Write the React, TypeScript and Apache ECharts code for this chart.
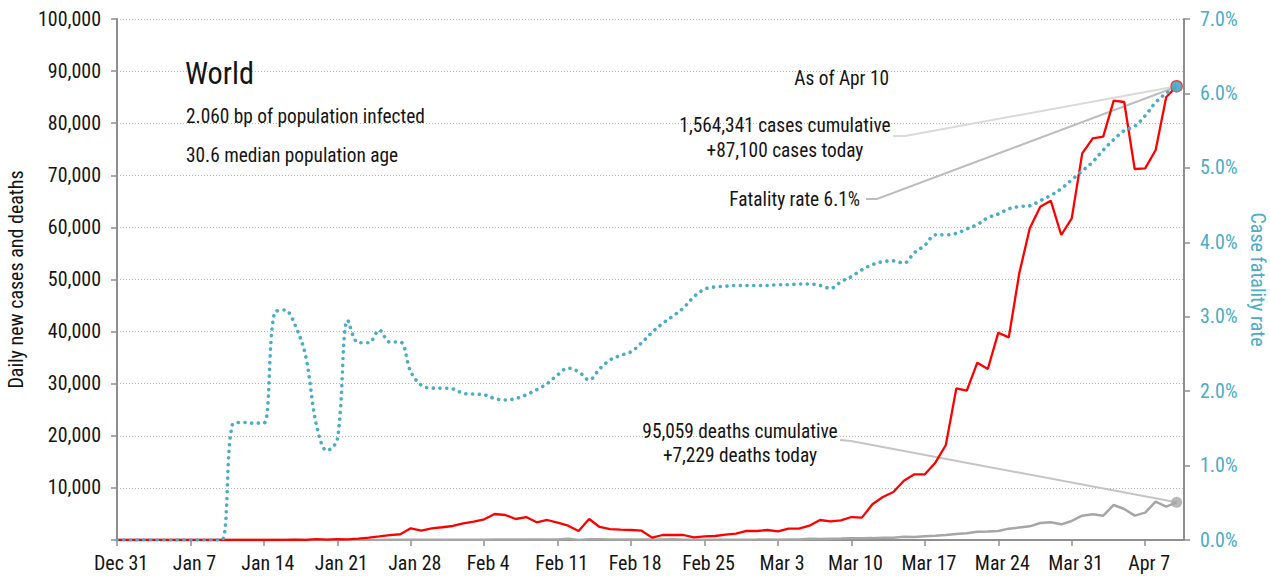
import React, { useEffect, useRef } from 'react';
import * as echarts from 'echarts';

// Tick labels of the date axis, one every 7 days starting Dec 31
const dateTickLabels = [
  'Dec 31', 'Jan 7', 'Jan 14', 'Jan 21', 'Jan 28', 'Feb 4', 'Feb 11', 'Feb 18',
  'Feb 25', 'Mar 3', 'Mar 10', 'Mar 17', 'Mar 24', 'Mar 31', 'Apr 7',
];

// Daily new cases, Dec 31 .. Apr 10 (one value per day)
const dailyCases = [
  27, 0, 0, 17, 0, 15, 0, 0, 0, 0,
  0, 0, 1, 0, 5, 4, 17, 60, 20, 170,
  77, 149, 131, 259, 457, 688, 950, 1100, 2240, 1790,
  2240, 2450, 2690, 3200, 3520, 3970, 4990, 4800, 4030, 4410,
  3390, 3840, 3330, 2750, 1730, 4030, 2500, 2100, 2000, 1920,
  1790, 450, 960, 1000, 960, 510, 700, 770, 1020, 1220,
  1730, 1730, 1920, 1660, 2180, 2180, 2750, 3840, 3580, 3770,
  4410, 4290, 6850, 8250, 9200, 11390, 12600, 12600, 14840, 18230,
  29110, 28660, 34030, 32820, 39790, 38900, 51190, 59820, 63980, 65130,
  58540, 61740, 74220, 77100, 77420, 84320, 84070, 71210, 71340, 74860,
  84970, 87100,
];

// Daily new deaths, Dec 31 .. Apr 10
const dailyDeaths = [
  0, 0, 0, 0, 0, 0, 0, 0, 0, 0,
  0, 1, 0, 0, 0, 0, 0, 1, 1, 0,
  3, 11, 0, 8, 16, 15, 24, 26, 26, 38,
  43, 46, 45, 57, 64, 66, 73, 73, 86, 89,
  97, 108, 97, 254, 13, 143, 142, 106, 98, 115,
  118, 109, 97, 150, 71, 52, 29, 44, 37, 58,
  67, 72, 84, 56, 104, 99, 235, 190, 230, 270,
  330, 340, 360, 430, 430, 620, 580, 700, 800, 960,
  1150, 1280, 1600, 1650, 1730, 2180, 2400, 2620, 3260, 3390,
  3010, 3650, 4670, 4930, 4670, 6720, 5950, 4670, 5250, 7360,
  6400, 7229,
];

// Case fatality rate (%), Dec 31 .. Apr 10
const fatalityRate = [
  0, 0, 0, 0, 0, 0, 0, 0, 0, 0,
  0, 1.55, 1.58, 1.57, 1.57, 3.05, 3.09, 2.88, 2.46, 1.55,
  1.2, 1.35, 2.95, 2.65, 2.65, 2.82, 2.66, 2.66, 2.26, 2.08,
  2.04, 2.04, 2.03, 1.97, 1.96, 1.95, 1.9, 1.88, 1.9, 1.95,
  2.02, 2.1, 2.22, 2.31, 2.26, 2.15, 2.3, 2.42, 2.48, 2.53,
  2.65, 2.79, 2.91, 3.01, 3.12, 3.27, 3.37, 3.4, 3.41, 3.42,
  3.42, 3.42, 3.42, 3.43, 3.43, 3.44, 3.44, 3.42, 3.38, 3.47,
  3.54, 3.63, 3.7, 3.74, 3.75, 3.72, 3.86, 3.96, 4.1, 4.1,
  4.12, 4.18, 4.24, 4.33, 4.38, 4.45, 4.48, 4.49, 4.56, 4.63,
  4.72, 4.84, 4.96, 5.08, 5.24, 5.38, 5.5, 5.56, 5.7, 5.88,
  6.0, 6.09,
];

const FONT = "'Roboto Condensed', 'Liberation Sans Narrow', 'DejaVu Sans Condensed', 'Arial Narrow', sans-serif";
const TEAL = '#4bacc6';
const RED = '#ff0000';
const GREY = '#a6a6a6';
const AXIS = '#8f8f8f';
const INK = '#141414';

function measure(text: string, size: number): number {
  const ctx = document.createElement('canvas').getContext('2d');
  if (!ctx) return text.length * size * 0.5;
  ctx.font = `${size}px ${FONT}`;
  return ctx.measureText(text).width;
}

const clamp = (v: number, lo: number, hi: number) => Math.max(lo, Math.min(hi, v));

export default function App() {
  const ref = useRef<HTMLDivElement>(null);

  useEffect(() => {
    const chart = echarts.init(ref.current as HTMLDivElement, null, { renderer: 'svg' });
    const last = dailyCases.length - 1;
    const toPairs = (arr: number[]) => arr.map((v, i) => [i, v]);

    // fit the available font to the condensed face of the original
    const tickSize = clamp((20 * 63) / measure('100,000', 20), 16, 20);
    const leftNameSize = clamp((20 * 230) / measure('Daily new cases and deaths', 20), 16, 20);
    const rightNameSize = clamp((20 * 138) / measure('Case fatality rate', 20), 16, 20);
    const annoScale = clamp(239 / measure('2.060 bp of population infected', 20), 0.7, 1.1);
    const titleScale = clamp(69 / measure('World', 32), 0.7, 1.1);

    const option: any = {
      animation: false,
      textStyle: { fontFamily: FONT },
      grid: { left: 117, right: 86, top: 19, bottom: 38, containLabel: false, outerBoundsMode: 'none' },
      xAxis: {
        type: 'value',
        min: 0,
        max: 101.7,
        interval: 7,
        axisLine: { show: true, lineStyle: { color: AXIS, width: 2 } },
        axisTick: { show: true, length: 6, lineStyle: { color: AXIS, width: 1.5 } },
        splitLine: { show: false },
        axisLabel: {
          color: INK,
          fontFamily: FONT,
          fontSize: tickSize,
          margin: 13,
          padding: [0, 0, 0, 8],
          showMaxLabel: false,
          formatter: (v: number) => {
            const k = Math.round(v / 7);
            return Math.abs(v - k * 7) < 1e-6 && k < dateTickLabels.length ? dateTickLabels[k] : '';
          },
        },
      },
      yAxis: [
        {
          type: 'value',
          min: 0,
          max: 100000,
          interval: 10000,
          name: 'Daily new cases and deaths',
          nameLocation: 'middle',
          nameGap: 91,
          nameTextStyle: { color: INK, fontFamily: FONT, fontSize: leftNameSize },
          axisLine: { show: true, lineStyle: { color: AXIS, width: 2 } },
          axisTick: { show: true, length: 6, lineStyle: { color: AXIS, width: 1.5 } },
          splitLine: { show: true, lineStyle: { color: '#b5b5b5', type: [1, 2], width: 1 } },
          axisLabel: {
            color: INK,
            fontFamily: FONT,
            fontSize: tickSize,
            margin: 16,
            formatter: (v: number) => (v === 0 ? '' : v.toLocaleString('en-US')),
          },
        },
        {
          type: 'value',
          position: 'right',
          min: 0,
          max: 7,
          interval: 1,
          name: 'Case fatality rate',
          nameLocation: 'middle',
          nameGap: 62,
          nameRotate: -90,
          nameTextStyle: { color: TEAL, fontFamily: FONT, fontSize: rightNameSize },
          axisLine: { show: true, lineStyle: { color: AXIS, width: 2 } },
          axisTick: { show: true, length: 6, lineStyle: { color: AXIS, width: 1.5 } },
          splitLine: { show: false },
          axisLabel: {
            color: TEAL,
            fontFamily: FONT,
            fontSize: tickSize,
            margin: 16,
            formatter: (v: number) => v.toFixed(1) + '%',
          },
        },
      ],
      series: [
        {
          name: 'Deaths',
          type: 'line',
          data: toPairs(dailyDeaths),
          symbol: 'none',
          lineStyle: { color: GREY, width: 2.5 },
          z: 2,
        },
        {
          name: 'Cases',
          type: 'line',
          data: toPairs(dailyCases),
          symbol: 'none',
          lineStyle: { color: RED, width: 2.3 },
          z: 3,
        },
        {
          name: 'Case fatality rate',
          type: 'line',
          yAxisIndex: 1,
          data: toPairs(fatalityRate),
          symbol: 'none',
          smooth: 0.35,
          lineStyle: { color: TEAL, width: 3.6, type: [0.1, 6.6], cap: 'round' },
          z: 4,
        },
        {
          type: 'scatter',
          data: [[last, dailyDeaths[last]]],
          symbol: 'circle',
          symbolSize: 11,
          itemStyle: { color: GREY },
          z: 5,
        },
        {
          type: 'scatter',
          data: [[last, dailyCases[last]]],
          symbol: 'circle',
          symbolSize: 11,
          itemStyle: { color: TEAL, borderColor: RED, borderWidth: 1.5 },
          z: 5,
        },
        {
          type: 'scatter',
          yAxisIndex: 1,
          data: [[last, fatalityRate[last]]],
          symbol: 'circle',
          symbolSize: 11,
          itemStyle: { color: TEAL },
          z: 6,
        },
      ],
    };

    chart.setOption(option);

    const pCases = chart.convertToPixel({ xAxisIndex: 0, yAxisIndex: 0 }, [last, dailyCases[last]]) as number[];
    const pDeaths = chart.convertToPixel({ xAxisIndex: 0, yAxisIndex: 0 }, [last, dailyDeaths[last]]) as number[];
    const pRate = chart.convertToPixel({ xAxisIndex: 0, yAxisIndex: 1 }, [last, fatalityRate[last]]) as number[];

    const txt = (text: string, x: number, y: number, size: number, align: string, sx: number) => ({
      type: 'text',
      x,
      y,
      scaleX: sx,
      silent: true,
      style: {
        text,
        fill: INK,
        font: `${size}px ${FONT}`,
        align,
        verticalAlign: 'middle',
      },
      z: 10,
    });

    chart.setOption({
      graphic: [
        txt('World', 185, 73, 32, 'left', titleScale),
        txt('2.060 bp of population infected', 186, 116, 20, 'left', annoScale),
        txt('30.6 median population age', 186, 155, 20, 'left', annoScale),
        txt('As of Apr 10', 889, 78, 20, 'right', annoScale),
        txt('1,564,341 cases cumulative', 785, 125, 20, 'center', annoScale),
        txt('+87,100 cases today', 785, 150, 20, 'center', annoScale),
        txt('Fatality rate 6.1%', 860, 199, 20, 'right', annoScale),
        txt('95,059 deaths cumulative', 740, 431, 20, 'center', annoScale),
        txt('+7,229 deaths today', 740, 455, 20, 'center', annoScale),
        {
          type: 'polyline',
          silent: true,
          shape: { points: [[893, 136], [905, 136], [pCases[0], pCases[1]]] },
          style: { stroke: '#d9d9d9', lineWidth: 2, fill: 'none' },
          z: 1,
        },
        {
          type: 'polyline',
          silent: true,
          shape: { points: [[866, 199], [877, 199], [pRate[0], pRate[1]]] },
          style: { stroke: '#bdbdbd', lineWidth: 2, fill: 'none' },
          z: 1,
        },
        {
          type: 'polyline',
          silent: true,
          shape: { points: [[840, 440], [851, 441], [pDeaths[0], pDeaths[1]]] },
          style: { stroke: '#c4c4c4', lineWidth: 2, fill: 'none' },
          z: 1,
        },
      ],
    });

    return () => chart.dispose();
  }, []);

  return (
    <div
      ref={ref}
      style={{ position: 'absolute', left: 0, top: 0, width: 1270, height: 578, background: '#fff' }}
    />
  );
}
